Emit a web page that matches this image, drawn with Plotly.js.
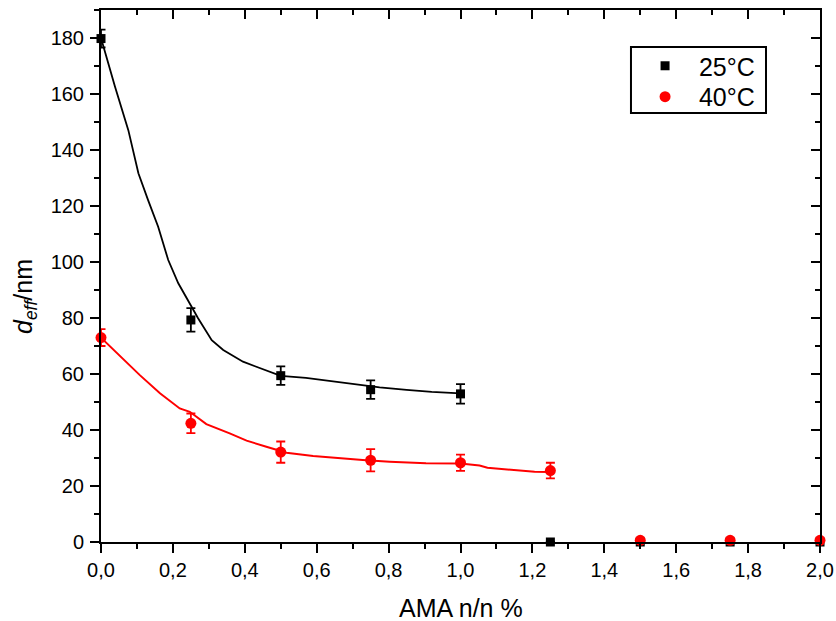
<!DOCTYPE html>
<html>
<head>
<meta charset="utf-8">
<script src="https://cdn.plot.ly/plotly-3.0.1.min.js"></script>
<style>html,body{margin:0;padding:0;background:#fff;}#chart{width:836px;height:621px;}</style>
</head>
<body>
<div id="chart"></div>
<script>
// ---- data ----
const ama = [0, 0.25, 0.5, 0.75, 1.0, 1.25, 1.5, 1.75, 2.0];
const d25 = [179.8, 79.3, 59.4, 54.4, 52.9, 0, 0, 0, 0];
const err25 = [3.2, 4.2, 3.3, 3.3, 3.5, 0, 0, 0, 0];
const d40 = [73.0, 42.4, 32.1, 29.2, 28.3, 25.5, 0.6, 0.6, 0.6];
const err40 = [3.0, 3.5, 3.8, 4.0, 2.9, 2.8, 0, 0, 0];

const fit25x = [0, 0.039, 0.076, 0.104, 0.131, 0.159, 0.187, 0.215, 0.252, 0.27, 0.308, 0.34, 0.395, 0.46, 0.5, 0.57, 0.61, 0.68, 0.775, 0.85, 0.92, 1.0];
const fit25y = [180, 162.6, 147.1, 131.7, 122.1, 112.6, 100.7, 92.4, 84, 79.9, 72.1, 68.6, 64.4, 61.4, 59.3, 58.6, 57.9, 56.7, 55.2, 54.3, 53.6, 53.1];
const fit40x = [0, 0.108, 0.164, 0.219, 0.247, 0.293, 0.358, 0.405, 0.46, 0.516, 0.59, 0.664, 0.728, 0.803, 0.904, 1.0, 1.053, 1.075, 1.15, 1.206, 1.25];
const fit40y = [73, 59.6, 53.1, 47.7, 46.5, 42.1, 38.8, 36.2, 34, 31.9, 30.7, 29.9, 29.3, 28.7, 28.1, 28.0, 27.3, 26.5, 25.7, 25.1, 25.0];

const xTicks = [0, 0.2, 0.4, 0.6, 0.8, 1.0, 1.2, 1.4, 1.6, 1.8, 2.0];
const yTicks = [0, 20, 40, 60, 80, 100, 120, 140, 160, 180];
const seriesNames = ['25°C', '40°C'];
const xTitle = 'AMA n/n %';
const yTitle = '<i>d</i><sub><i>eff</i></sub>/nm';

const FONT = '"Liberation Sans", Arial, Helvetica, sans-serif';
const nb = '\u00A0\u00A0';

const traces = [
  {x: fit25x, y: fit25y, mode: 'lines', line: {color: '#000', width: 1.8}, showlegend: false, hoverinfo: 'skip'},
  {x: fit40x, y: fit40y, mode: 'lines', line: {color: '#ff0000', width: 2}, showlegend: false, hoverinfo: 'skip'},
  {x: ama, y: d25, name: nb + seriesNames[0], mode: 'markers', cliponaxis: false, legend: 'legend',
   marker: {symbol: 'square', size: 9, color: '#000'},
   error_y: {type: 'data', array: err25, visible: true, color: '#000', thickness: 1.8, width: 4.5}},
  {x: ama, y: d40, name: nb + seriesNames[1], mode: 'markers', cliponaxis: false, legend: 'legend2',
   marker: {symbol: 'circle', size: 11, color: '#ff0000'},
   error_y: {type: 'data', array: err40, visible: true, color: '#ff0000', thickness: 1.8, width: 4.5}},
  {x: [0], y: [0], xaxis: 'x2', yaxis: 'y2', mode: 'markers', marker: {opacity: 0}, showlegend: false, hoverinfo: 'skip'}
];

const axCommon = {showgrid: false, zeroline: false, showline: true, linecolor: '#000', linewidth: 2,
  tickcolor: '#000', tickwidth: 2, ticklen: 9};
const legCommon = {xanchor: 'left', yanchor: 'middle', borderwidth: 0, bgcolor: 'rgba(0,0,0,0)',
  font: {family: FONT, size: 25, color: '#000'}, indentation: 12};

const layout = {
  width: 836, height: 621,
  margin: {l: 101, r: 16, t: 10, b: 79},
  paper_bgcolor: '#fff', plot_bgcolor: '#fff',
  separators: ', ',
  font: {family: FONT, color: '#000', size: 20},
  showlegend: true,
  legend: Object.assign({}, legCommon, {x: 0.740, y: 0.8947}),
  legend2: Object.assign({}, legCommon, {x: 0.740, y: 0.8365}),
  shapes: [
    {type: 'rect', xref: 'paper', yref: 'paper', x0: 0.7371, x1: 0.9249, y0: 0.8064, y1: 0.9305,
     line: {color: '#000', width: 2}, fillcolor: 'rgba(0,0,0,0)', layer: 'above'}
  ],
  xaxis: Object.assign({}, axCommon, {range: [0, 2.0], tickvals: xTicks, tickformat: '.1f', ticks: 'outside',
    tickfont: {family: FONT, size: 20, color: '#000'},
    minor: {dtick: 0.1, tick0: 0, ticks: 'outside', ticklen: 5, tickwidth: 2, tickcolor: '#000'}}),
  yaxis: Object.assign({}, axCommon, {range: [0, 190], tickvals: yTicks, ticks: 'outside', ticklabelstandoff: 2,
    tickfont: {family: FONT, size: 20, color: '#000'},
    minor: {dtick: 10, tick0: 0, ticks: 'outside', ticklen: 5, tickwidth: 2, tickcolor: '#000'}}),
  xaxis2: Object.assign({}, axCommon, {overlaying: 'x', side: 'top', range: [0, 2.0], tickvals: xTicks,
    ticks: 'inside', showticklabels: false,
    minor: {dtick: 0.1, tick0: 0, ticks: 'inside', ticklen: 5, tickwidth: 2, tickcolor: '#000'}}),
  yaxis2: Object.assign({}, axCommon, {overlaying: 'y', side: 'right', range: [0, 190], tickvals: yTicks,
    ticks: 'inside', showticklabels: false,
    minor: {dtick: 10, tick0: 0, ticks: 'inside', ticklen: 5, tickwidth: 2, tickcolor: '#000'}}),
  annotations: [
    {text: xTitle, xref: 'paper', yref: 'paper', x: 0.5, y: -0.124, xanchor: 'center', yanchor: 'middle',
     showarrow: false, font: {family: FONT, size: 25, color: '#000'}},
    {text: yTitle, xref: 'paper', yref: 'paper', x: -0.1057, y: 0.4605, xanchor: 'center', yanchor: 'middle',
     textangle: -90, showarrow: false, font: {family: FONT, size: 25, color: '#000'}}
  ]
};

Plotly.newPlot('chart', traces, layout, {staticPlot: true, displayModeBar: false});
</script>
</body>
</html>
